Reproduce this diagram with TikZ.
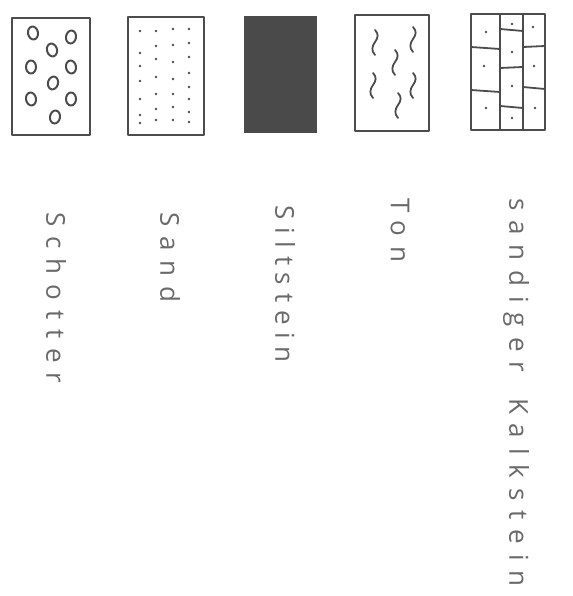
\documentclass[tikz,border=0pt]{standalone}
\usepackage{fontspec}
\newfontfamily\handfont[LetterSpace=38]{Open Sans}
\definecolor{pencil}{HTML}{4c4c4c}
\definecolor{silt}{HTML}{4a4a4a}
\definecolor{writing}{HTML}{6a6a6a}

\begin{document}
\begin{tikzpicture}[
  x=1pt, y=-1pt,
  line cap=round, line join=round,
  every node/.style={inner sep=0pt},
  box/.style={draw=pencil, line width=2.4pt},
  grain/.style={draw=pencil, line width=2pt},
  speck/.style={fill=pencil},
  wave/.style={draw=pencil, line width=1.8pt},
  joint/.style={draw=pencil, line width=1.8pt},
  label/.style={rotate=-90, anchor=west, text=writing, font=\handfont\fontsize{26}{26}\selectfont},
]
\useasboundingbox (0,0) rectangle (572,596);
% Schotter
\draw[box] (12,18) rectangle (90,135);
\foreach \x/\y/\a in {33/33/10, 71/37/-10, 52/50/15, 31/67/0, 71/67/10,
                      53/83/-15, 31/99/10, 71/99/0, 55/117/-10}
  \draw[grain, rotate around={\a:(\x,\y)}] (\x,\y) ellipse (5 and 6.5);
% Sand
\draw[box] (128,17) rectangle (204,135);
\foreach \x/\y in {140/31, 140/53, 140/66, 140/81, 140/99, 140/115, 140/123,
                   156/31, 156/46, 156/59, 156/77, 156/94, 156/109, 156/120,
                   173/29, 173/45, 173/62, 173/79, 173/94, 173/107, 173/120,
                   189/29, 189/43, 189/57, 189/73, 189/87, 189/99, 189/112, 189/122}
  \fill[speck] (\x,\y) circle (1.4);
% Siltstein
\fill[silt] (244,16) rectangle (317,133);
% Ton
\draw[box] (355,15) rectangle (429,131);
\foreach \x/\y in {375/30, 413/27, 395/50, 373/73, 413/73, 398/93}
  \draw[wave] (\x,\y) .. controls (\x+4,\y+4) and (\x+3,\y+8) .. (\x,\y+12)
                     .. controls (\x-3,\y+16) and (\x-4,\y+21) .. (\x,\y+25);
% sandiger Kalkstein
\draw[box] (471,14) rectangle (545,130);
\draw[joint] (500,14) -- (500,130) (523,14) -- (523,130);
\draw[joint] (471,47) -- (500,49) (471,90) -- (500,92);
\draw[joint] (500,29) -- (523,31) (500,68) -- (523,67) (500,106) -- (523,108);
\draw[joint] (523,47) -- (545,46) (523,87) -- (545,89);
\foreach \x/\y in {486/32, 484/66, 486/108, 512/24, 512/52, 512/86, 512/118,
                   533/27, 534/66, 535/108}
  \fill[speck] (\x,\y) circle (1.4);
% labels
\node[label] (schotter) at (56,212) {Schotter};
\node[label] (sand) at (170,212) {Sand};
\node[label] (siltstein) at (285,205) {\addfontfeature{LetterSpace=30}Siltstein};
\node[label] (ton) at (400,198) {Ton};
\node[label] (kalkstein) at (516,198) {sandiger\hspace{26pt}Kalkstein};
\end{tikzpicture}
\end{document}
